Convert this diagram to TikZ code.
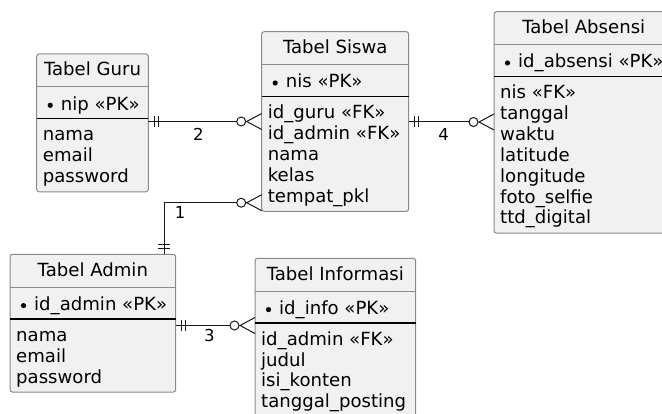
\documentclass[tikz,border=0pt]{standalone}
\usepackage{fontspec}
\setmainfont{DejaVu Sans}
\usetikzlibrary{calc}
\definecolor{erfill}{HTML}{F1F1F1}
\definecolor{erborder}{HTML}{8A8A8A}
\definecolor{erline}{HTML}{181818}
\tikzset{
 erbox/.style={draw=erborder, fill=erfill, rounded corners=2.5pt, line width=1pt, inner sep=0pt, outer sep=0pt, anchor=north west},
 titlesep/.style={draw=erborder, line width=1pt},
 pksep/.style={draw=black, line width=1.4pt},
 ertext/.style={inner sep=0pt, font=\fontsize{18.1}{21}\selectfont, text=black},
 rellabel/.style={inner sep=0pt, font=\fontsize{16.5}{19}\selectfont, text=black},
 relline/.style={draw=erline, line width=1pt},
}
\newcommand{\ertable}[8]{%
 \node[erbox, minimum width={(#4-#2)*1pt}, minimum height={(64.7+20.9*#8+10.4)*1pt}] (#1) at (#2,#3) {};
 \draw[titlesep] ({#2},{#3+33}) -- ({#4},{#3+33});
 \draw[pksep] ({#2},{#3+64.7}) -- ({#4},{#3+64.7});
 \node[ertext, anchor=base] (#1-t) at ({(#2+#4)/2},{#3+22}) {#5};
 \fill ({#2+13.5},{#3+51.3}) circle (2.6);
 \node[ertext, anchor=base west] (#1-pk) at ({#2+24},{#3+56.3}) {#6};
 \foreach \t [count=\i] in {#7} {\node[ertext, anchor=base west] (#1-a\i) at ({#2+6},{#3+86.9+20.9*(\i-1)}) {\t};}
}
\newcommand{\errelh}[2]{%
 \draw[relline] (#1) -- ($(#2)+(-25,0)$);
 \draw[relline] ($(#1)+(6,-5.5)$) -- ($(#1)+(6,5.5)$);
 \draw[relline] ($(#1)+(10,-5.5)$) -- ($(#1)+(10,5.5)$);
 \draw[relline] ($(#2)+(-20.5,0)$) circle (4.5);
 \draw[relline] ($(#2)+(0,-8)$) -- ($(#2)+(-15,0)$) -- ($(#2)+(0,8)$);
}
\begin{document}
\begin{tikzpicture}[x=1pt,y=-1pt]
\useasboundingbox (0,0) rectangle (662,414);
\clip (0,0) rectangle (662,414);
\fill[white] (0,0) rectangle (662,414);

\ertable{guru}{36.7}{54}{148.3}{Tabel Guru}{nip «PK»}{nama,email,password}{3}
\ertable{siswa}{261.7}{31.7}{408.7}{Tabel Siswa}{nis «PK»}{id\_guru «FK»,id\_admin «FK»,nama,kelas,tempat\_pkl}{5}
\ertable{absensi}{494}{11.7}{673.5}{Tabel Absensi}{id\_absensi «PK»}{nis «FK»,tanggal,waktu,latitude,longitude,foto\_selfie,ttd\_digital}{7}
\ertable{admin}{10}{254.3}{175.7}{Tabel Admin}{id\_admin «PK»}{nama,email,password}{3}
\ertable{info}{255}{258.3}{415.7}{Tabel Informasi}{id\_info «PK»}{id\_admin «FK»,judul,isi\_konten,tanggal\_posting}{4}

% relation 2: guru -> siswa
\coordinate (y2) at (0,121.5);
\coordinate (r2s) at (guru.east |- y2);
\coordinate (r2e) at (siswa.west |- y2);
\errelh{r2s}{r2e}
\node[rellabel] (l2) at (198.3,134.3) {2};

% relation 4: siswa -> absensi
\coordinate (y4) at (0,122);
\coordinate (r4s) at (siswa.east |- y4);
\coordinate (r4e) at (absensi.west |- y4);
\errelh{r4s}{r4e}
\node[rellabel] (l4) at (443.5,134.3) {4};

% relation 3: admin -> informasi
\coordinate (y3) at (0,325.5);
\coordinate (r3s) at (admin.east |- y3);
\coordinate (r3e) at (info.west |- y3);
\errelh{r3s}{r3e}
\node[rellabel] (l3) at (209.3,335.3) {3};

% relation 1: admin -> siswa (elbow)
\coordinate (x1) at (164,0);
\coordinate (y1) at (0,202.7);
\coordinate (r1s) at (x1 |- admin.north);
\coordinate (r1c) at (x1 |- y1);
\coordinate (r1e) at (siswa.west |- y1);
\draw[relline] (r1s) -- (r1c) -- ($(r1e)+(-25,0)$);
\draw[relline] ($(r1s)+(-6,-6)$) -- ($(r1s)+(6,-6)$);
\draw[relline] ($(r1s)+(-6,-10)$) -- ($(r1s)+(6,-10)$);
\draw[relline] ($(r1e)+(-20.5,0)$) circle (4.5);
\draw[relline] ($(r1e)+(0,-8)$) -- ($(r1e)+(-15,0)$) -- ($(r1e)+(0,8)$);
\node[rellabel] (l1) at (180,212.7) {1};
\end{tikzpicture}
\end{document}
